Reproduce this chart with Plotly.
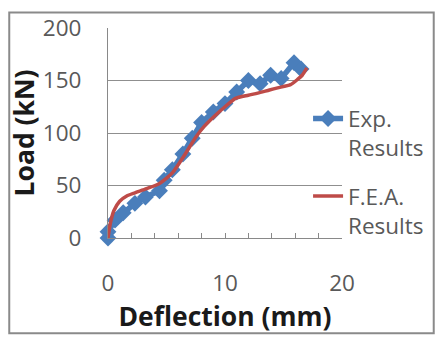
import plotly.graph_objects as go

# Experimental results (Deflection mm, Load kN)
exp_x = [0, 0, 0.6, 1.3, 2.3, 3.2, 4.4, 4.8, 5.5, 6.4, 7.2, 8.0, 9.0, 10.0, 11.0, 12.0, 13.0, 13.9, 14.8, 15.9, 16.5]
exp_y = [0, 6, 17, 24, 33, 39, 45, 55, 65, 80, 95, 110, 120, 128, 139, 150, 147, 155, 152, 167, 161]

# F.E.A. results
fea_x = [0, 0.2, 0.5, 1.0, 1.6, 2.3, 3.3, 4.4, 5.5, 6.6, 7.5, 8.2, 9.0, 10.0, 10.9, 12.0, 12.8, 13.8, 14.5, 15.6, 16.2, 16.6, 17.0]
fea_y = [0, 14, 26, 35, 40, 43, 47, 52, 62, 80, 96, 106, 115, 125, 133, 136, 138, 141, 143, 146, 151, 155, 162]

x_ticks = [0, 10, 20]
y_ticks = [0, 50, 100, 150, 200]

FONT = "Open Sans"
FS = 22.5

fig = go.Figure()
fig.add_trace(go.Scatter(
    x=exp_x, y=exp_y, mode="lines+markers", name="Exp.<br>Results",
    legendgroup="exp",
    line=dict(color="#4A7EBB", width=5.5),
    marker=dict(symbol="diamond", size=13, color="#4A7EBB"),
    cliponaxis=False,
))
fig.add_trace(go.Scatter(
    x=fea_x, y=fea_y, mode="lines", name="F.E.A.<br>Results",
    legendgroup="fea",
    line=dict(color="#BE4B48", width=3.5, shape="spline", smoothing=0.6),
    cliponaxis=False,
))

fig.update_layout(
    width=441, height=341,
    margin=dict(l=108, r=96, t=22, b=103),
    paper_bgcolor="white", plot_bgcolor="white",
    font=dict(family=FONT, size=FS, color="#595959"),
    showlegend=True,
    legend=dict(x=0.855, y=0.67, xanchor="left", yanchor="top",
                valign="top", bgcolor="rgba(0,0,0,0)",
                font=dict(family=FONT, size=FS, color="#595959"),
                tracegroupgap=16),
    xaxis=dict(
        range=[0, 20], tickvals=x_ticks, ticktext=[str(v) for v in x_ticks],
        showgrid=False, zeroline=False,
        showline=True, linecolor="#898989", linewidth=1.2,
        ticks="inside", ticklen=5, tickcolor="#898989",
        minor=dict(dtick=2, ticks="inside", ticklen=5, tickcolor="#898989", showgrid=False),
        ticklabelstandoff=25,
        title=dict(text="<b>Deflection (mm)</b>", font=dict(family=FONT, size=26.5, color="#1a1a1a"), standoff=4),
    ),
    yaxis=dict(
        range=[0, 200], tickvals=y_ticks, ticktext=[str(v) for v in y_ticks],
        showgrid=True, gridcolor="#8f8f8f", gridwidth=1.2,
        zeroline=False,
        showline=True, linecolor="#898989", linewidth=1.2,
        ticks="", ticklabelstandoff=21,
        title=dict(text="<b>Load (kN)</b>", font=dict(family=FONT, size=26.5, color="#1a1a1a"), standoff=0),
    ),
    shapes=[dict(type="rect", xref="paper", yref="paper",
                 x0=-0.422, x1=1.392, y0=-0.454, y1=1.074,
                 line=dict(color="#8a8a8a", width=2), layer="below")],
)

fig.write_html("out.html")
